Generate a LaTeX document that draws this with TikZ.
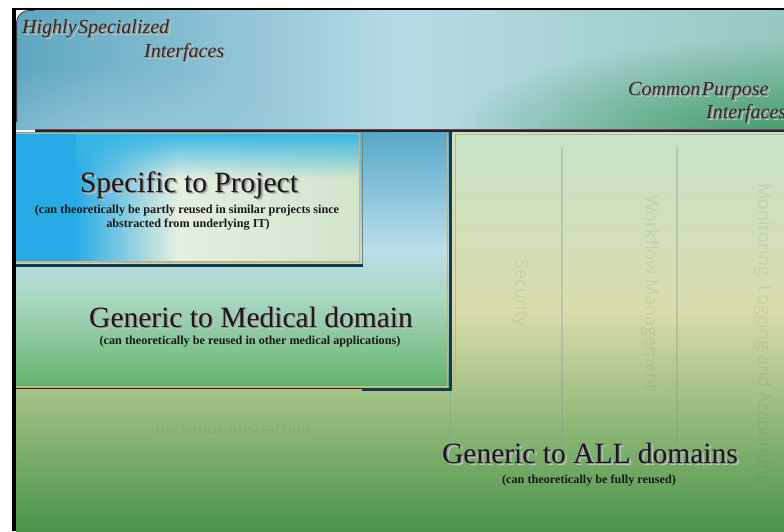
\documentclass[tikz,border=0pt]{standalone}
\usepackage{fontspec}
\setmainfont{Liberation Serif}
\newfontfamily\ghostsans{Open Sans}
\usetikzlibrary{fadings}

% soft fadings used for glows and bands
\tikzfading[name=glow, inner color=transparent!0, outer color=transparent!100]
\tikzfading[name=fadedown, top color=transparent!0, bottom color=transparent!100]

% palette
\definecolor{topTeal}{HTML}{5EA6C0}
\definecolor{topLight}{HTML}{B6DBE6}
\definecolor{topSea}{HTML}{98C9C0}
\definecolor{topGreen}{HTML}{3F9A62}
\definecolor{allA}{HTML}{C6E3C8}
\definecolor{allB}{HTML}{DADCAC}
\definecolor{allC}{HTML}{9EC183}
\definecolor{allD}{HTML}{4A944A}
\definecolor{medA}{HTML}{58A8CB}
\definecolor{medB}{HTML}{BADFE9}
\definecolor{medC}{HTML}{A8D7C0}
\definecolor{medD}{HTML}{64B46C}
\definecolor{specA}{HTML}{27ABE6}
\definecolor{specC}{HTML}{E4EFE0}
\definecolor{specD}{HTML}{CFE5CB}
\definecolor{specTop}{HTML}{35B6E6}
\definecolor{edgeTan}{HTML}{CBB47C}
\definecolor{navy}{HTML}{173A4A}
\definecolor{sepDark}{HTML}{1F2630}
\definecolor{sepRed}{HTML}{8B3A48}
\definecolor{ink}{HTML}{1A1A1A}
\definecolor{ghostInk}{HTML}{3F5F4A}
\definecolor{ghostLine}{HTML}{7D9E95}

% text with a soft grey drop shadow behind it (two offset layers)
\newcommand\dropshadowed[1]{\leavevmode
  \rlap{\kern2.4pt\raisebox{-2.4pt}{\textcolor{black!22}{#1}}}%
  \rlap{\kern1.4pt\raisebox{-1.4pt}{\textcolor{black!42}{#1}}}#1}

\begin{document}
\begin{tikzpicture}[x=1pt,y=-1pt,
  title/.style={font=\fontsize{29.5}{32}\selectfont, text=ink, inner sep=0pt, anchor=base},
  subline/.style={font=\fontsize{12.2}{14}\selectfont\bfseries, text=ink, inner sep=0pt, anchor=base},
  tag/.style={font=\fontsize{20}{22}\selectfont\itshape, text=ink!92, inner sep=0pt, anchor=base west},
  ghost/.style={font=\ghostsans\fontsize{18}{20}\selectfont, text=ghostInk, opacity=0.1, inner sep=0pt},
  ghostrule/.style={draw=ghostLine, line width=2pt, opacity=0.35}]
\useasboundingbox (0,0) rectangle (784,531);

% ---- lower body: components generic to all domains
\shade[top color=allA, bottom color=allB] (16,132) rectangle (784,311);
\shade[top color=allB, bottom color=allC] (16,310) rectangle (784,401);
\shade[top color=allC, bottom color=allD] (16,400) rectangle (784,531);

% faint column frames of the generic services
\draw[ghostrule] (562,147) -- (562,460);
\draw[ghostrule] (677,147) -- (677,460);
\draw[ghostLine, line width=1pt, opacity=0.25] (17,457) -- (784,457);
\draw[ghostLine, line width=1.5pt, opacity=0.3] (450,390) -- (450,457);

\node[ghost, rotate=-90] (security) at (520,293) {Security};
\node[ghost, rotate=-90] (workflow) at (650,293) {Workflow Management};
\node[ghost, rotate=-90, anchor=west] (monitoring) at (763,183) {Monitoring, Logging and Accounting};
\node[ghost, font=\ghostsans\fontsize{15.5}{18}\selectfont] (backends) at (233,429) {Backends Abstraction};

% tan edge of the generic area
\draw[edgeTan, line width=1pt] (455,134) -- (784,134);
\draw[edgeTan, line width=1pt] (455,134) -- (455,390);

% ---- medical-domain block
\shade[top color=medA, bottom color=medB] (16,132) rectangle (449,251);
\shade[top color=medB, bottom color=medC] (16,250) rectangle (449,301);
\shade[top color=medC, bottom color=medD] (16,300) rectangle (449,386);
\draw[edgeTan, line width=1pt] (447,133) -- (447,386.5) -- (16,386.5);
\draw[sepDark, line width=0.8pt] (16,388) -- (362,388);
\draw[edgeTan, line width=1.2pt] (16,389.5) -- (362,389.5);
\draw[navy, line width=3pt] (450.5,131) -- (450.5,389.5) -- (362,389.5);

% ---- project-specific block
\fill[specA] (16,133) rectangle (76,262);
\shade[left color=specA, right color=specC] (75,133) rectangle (177,262);
\shade[left color=specC, right color=specD] (176,133) rectangle (360,262);
\fill[specTop, path fading=fadedown] (76,133) rectangle (360,178);
\draw[edgeTan, line width=1.4pt] (16,133.5) -- (359.5,133.5) -- (359.5,262) -- (16,262);
\draw[edgeTan!70!black, line width=0.6pt] (362,133) -- (362,264);
\draw[navy, line width=2.5pt] (16,265.5) -- (363,265.5);

% ---- top band: interfaces
\begin{scope}
  \clip (16,130) [rounded corners=14pt] -- (16,10) [sharp corners] -- (784,10) -- (784,130) -- cycle;
  \shade[left color=topTeal, right color=topLight] (16,10) rectangle (401,130);
  \shade[left color=topLight, right color=topSea] (400,10) rectangle (784,130);
  \fill[topLight, opacity=0.45, path fading=glow] (90,135) ellipse [x radius=220, y radius=70];
  \fill[topGreen, path fading=glow] (790,138) ellipse [x radius=340, y radius=100];
\end{scope}
\draw[sepRed!70!black, line width=0.8pt] (16.6,122) [rounded corners=12pt] -- (16.6,10.5) -- (34,10.5);

% separator under the top band
\draw[sepRed, line width=0.8pt] (35,129.2) -- (784,129.2);
\draw[sepDark, line width=2.4pt] (35,131.2) -- (784,131.2);

% outer black frame
\draw[black, line width=2pt] (12,9) -- (784,9);
\draw[black, line width=4pt] (14,8) -- (14,531);

% ---- interface labels
\node[tag] (hs) at (22,33) {\dropshadowed{Highly\hspace{1.5pt}Specialized}};
\node[tag] (hsi) at (144,57) {\dropshadowed{Interfaces}};
\node[tag] (cp) at (628,95) {\dropshadowed{Common\hspace{1.5pt}Purpose}};
\node[tag] (cpi) at (706,118) {\dropshadowed{Interfaces}};

% ---- block titles
\node[title] (spec) at (189,192) {\dropshadowed{Specific to Project}};
\node[subline] (spec-a) at (187,213) {(can theoretically be partly reused in similar projects since};
\node[subline] (spec-b) at (188,227) {abstracted from underlying IT)};

\node[title] (med) at (251,327) {\dropshadowed{Generic to Medical domain}};
\node[subline] (med-a) at (250,344) {(can theoretically be reused in other medical applications)};

\node[title] (all) at (590,463) {\dropshadowed{Generic to ALL domains}};
\node[subline] (all-a) at (589,483) {(can theoretically be fully reused)};
\end{tikzpicture}
\end{document}
